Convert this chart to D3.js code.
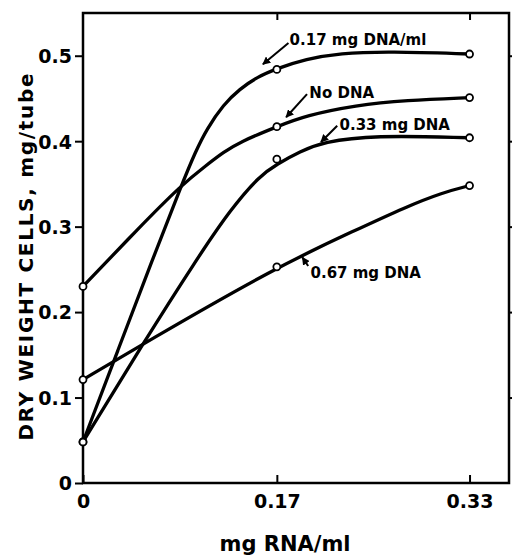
<!DOCTYPE html>
<meta charset="utf-8">
<style>
body { margin: 0; background: #fff; }
text { font-family: "DejaVu Sans", sans-serif; font-weight: bold; fill: #000; }
.frame { fill: none; stroke: #000; stroke-width: 2.5px; }
.curve { fill: none; stroke: #000; stroke-width: 3.3px; }
.dot { fill: #fff; stroke: #000; stroke-width: 1.8px; }
.tick line { stroke: #000; stroke-width: 2px; }
.arrow { stroke: #000; stroke-width: 2px; fill: none; }
</style>
<body>
<script src="https://d3js.org/d3.v7.min.js"></script>
<script>

var width = 512,
    height = 556;

// x positions (mg RNA/ml) and their printed labels
var xValues = [0, 0.167, 0.333];
var xLabels = ["0", "0.17", "0.33"];
var yTicks = [0, 0.1, 0.2, 0.3, 0.4, 0.5];

// measured points (open circles)
var dna017 = [0.048, 0.484, 0.502];
var noDna  = [0.230, 0.417, 0.451];
var dna033 = [0.048, 0.379, 0.404];
var dna067 = [0.121, 0.253, 0.348];

// freehand curves as [x, y]
var trace017 = [[0, 0.048], [0.030, 0.155], [0.060, 0.262], [0.085, 0.349], [0.097, 0.388], [0.1065, 0.414], [0.121, 0.443], [0.135, 0.461], [0.150, 0.475], [0.167, 0.485], [0.192, 0.496], [0.221, 0.503], [0.264, 0.505], [0.333, 0.502]];
var traceNo  = [[0, 0.230], [0.047, 0.297], [0.085, 0.349], [0.1065, 0.372], [0.121, 0.387], [0.135, 0.399], [0.167, 0.417], [0.192, 0.430], [0.235, 0.442], [0.278, 0.448], [0.333, 0.451]];
var trace033 = [[0, 0.048], [0.052, 0.164], [0.098, 0.262], [0.127, 0.320], [0.1525, 0.360], [0.167, 0.373], [0.187, 0.388], [0.207, 0.399], [0.250, 0.407], [0.333, 0.404]];
var trace067 = [[0, 0.121], [0.052, 0.163], [0.167, 0.253], [0.235, 0.296], [0.278, 0.323], [0.310, 0.340], [0.333, 0.348]];

var seriesNames = ["0.17 mg DNA/ml", "No DNA", "0.33 mg DNA", "0.67 mg DNA"];

var series = [
  {name: seriesNames[0], pts: dna017, trace: trace017},
  {name: seriesNames[1], pts: noDna,  trace: traceNo},
  {name: seriesNames[2], pts: dna033, trace: trace033},
  {name: seriesNames[3], pts: dna067, trace: trace067}
];

// label placement: text anchor and arrow (tail -> head), in data units
var notes = [
  {text: seriesNames[0], x: 0.178, y: 0.513, from: [0.177, 0.515], to: [0.155, 0.490]},
  {text: seriesNames[1], x: 0.195, y: 0.451, from: [0.193, 0.455], to: [0.175, 0.428]},
  {text: seriesNames[2], x: 0.221, y: 0.413, from: [0.219, 0.418], to: [0.205, 0.399]},
  {text: seriesNames[3], x: 0.196, y: 0.240, from: [0.194, 0.254], to: [0.189, 0.264]}
];

var margin = {top: 13, right: 3, bottom: 73, left: 83};

var x = d3.scaleLinear()
    .domain([0, 0.367])
    .range([margin.left, width - margin.right]);

var y = d3.scaleLinear()
    .domain([0, 0.55])
    .range([height - margin.bottom, margin.top]);

var svg = d3.select("body").append("svg")
    .attr("width", width)
    .attr("height", height);

svg.append("defs").append("marker")
    .attr("id", "head")
    .attr("viewBox", "0 0 10 10")
    .attr("refX", 9)
    .attr("refY", 5)
    .attr("markerWidth", 4)
    .attr("markerHeight", 4)
    .attr("orient", "auto")
  .append("path")
    .attr("d", "M0,0L10,5L0,10z")
    .attr("fill", "#000");

// left axis: ticks outside
svg.append("g")
    .attr("transform", "translate(" + margin.left + ",0)")
    .call(d3.axisLeft(y).tickValues(yTicks).tickSize(8).tickPadding(3)
      .tickFormat(function(d) { return d === 0 ? "0" : d3.format(".1f")(d); }))
    .call(function(g) { g.select(".domain").remove(); })
    .selectAll("text")
    .style("font-size", "19px")
    .attr("dy", "0.36em");

// right axis: ticks inside
svg.append("g")
    .attr("transform", "translate(" + (width - margin.right) + ",0)")
    .call(d3.axisLeft(y).tickValues(yTicks.slice(1)).tickSize(-7).tickFormat(""))
    .call(function(g) { g.select(".domain").remove(); });

// bottom axis: ticks inside
svg.append("g")
    .attr("transform", "translate(0," + (height - margin.bottom) + ")")
    .call(d3.axisBottom(x).tickValues(xValues).tickSize(-8).tickPadding(12)
      .tickFormat(function(d, i) { return xLabels[i]; }))
    .call(function(g) { g.select(".domain").remove(); })
    .selectAll("text")
    .style("font-size", "19px");

// top axis: ticks inside
svg.append("g")
    .attr("transform", "translate(0," + margin.top + ")")
    .call(d3.axisTop(x).tickValues(xValues.slice(1)).tickSize(-7).tickFormat(""))
    .call(function(g) { g.select(".domain").remove(); });

svg.append("rect")
    .attr("class", "frame")
    .attr("x", x(0))
    .attr("y", y(0.55))
    .attr("width", x(0.367) - x(0))
    .attr("height", y(0) - y(0.55));

// B-spline smooths out the reading noise of the traced points
var line = d3.line()
    .x(function(d) { return x(d[0]); })
    .y(function(d) { return y(d[1]); })
    .curve(d3.curveBasis);

svg.selectAll(".curve")
    .data(series)
  .enter().append("path")
    .attr("class", "curve")
    .attr("d", function(d) { return line(d.trace); });

series.forEach(function(s) {
  svg.selectAll(null)
      .data(s.pts)
    .enter().append("circle")
      .attr("class", "dot")
      .attr("cx", function(d, i) { return x(xValues[i]); })
      .attr("cy", function(d) { return y(d); })
      .attr("r", 3.5);
});

svg.selectAll(".arrow")
    .data(notes)
  .enter().append("line")
    .attr("class", "arrow")
    .attr("x1", function(d) { return x(d.from[0]); })
    .attr("y1", function(d) { return y(d.from[1]); })
    .attr("x2", function(d) { return x(d.to[0]); })
    .attr("y2", function(d) { return y(d.to[1]); })
    .attr("marker-end", "url(#head)");

svg.selectAll(".note")
    .data(notes)
  .enter().append("text")
    .attr("class", "note")
    .attr("x", function(d) { return x(d.x); })
    .attr("y", function(d) { return y(d.y); })
    .style("font-size", "15px")
    .text(function(d) { return d.text; });

svg.append("text")
    .attr("transform", "translate(33,257) rotate(-90)")
    .attr("text-anchor", "middle")
    .style("font-size", "20px")
    .attr("textLength", 367)
    .attr("lengthAdjust", "spacing")
    .text("DRY WEIGHT CELLS, mg/tube");

svg.append("text")
    .attr("x", 285)
    .attr("y", 551)
    .attr("text-anchor", "middle")
    .style("font-size", "21px")
    .text("mg RNA/ml");

</script>
